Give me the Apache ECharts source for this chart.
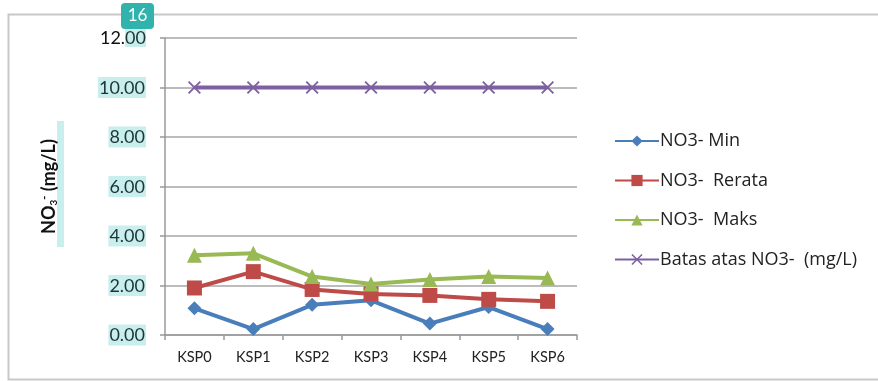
<!DOCTYPE html>
<html>
<head>
<meta charset="utf-8">
<script src="https://cdn.jsdelivr.net/npm/echarts@6/dist/echarts.min.js"></script>
<style>
  html, body { margin: 0; padding: 0; background: #fff; }
  #chart { width: 878px; height: 381px; }
</style>
</head>
<body>
<div id="chart"></div>
<script>
// Sampling stations
const stations = ['KSP0', 'KSP1', 'KSP2', 'KSP3', 'KSP4', 'KSP5', 'KSP6'];

// Nitrate concentrations (mg/L)
const no3Min    = [1.08, 0.24, 1.22, 1.40, 0.46, 1.13, 0.24];
const no3Rerata = [1.90, 2.56, 1.84, 1.66, 1.60, 1.44, 1.36];
const no3Maks   = [3.22, 3.30, 2.36, 2.06, 2.24, 2.36, 2.30];
const no3Batas  = [10, 10, 10, 10, 10, 10, 10];

const seriesNames = ['NO3- Min', 'NO3-  Rerata', 'NO3-  Maks', 'Batas atas NO3-  (mg/L)'];
const yTicks = [0, 2, 4, 6, 8, 10, 12];
const pageNumber = '16';

const FONT = 'Lato, "Open Sans", sans-serif';
const LEGEND_FONT = '"Open Sans", Lato, sans-serif';
const HL = '#c9eeee';

const crossPath = 'path://M0,1L1,0L5,4L9,0L10,1L6,5L10,9L9,10L5,6L1,10L0,9L4,5Z';

function lineSeries(name, data, color, symbol, size) {
  return {
    name: name,
    type: 'line',
    data: data,
    symbol: symbol,
    symbolSize: size,
    showAllSymbol: true,
    lineStyle: { color: color, width: 4 },
    itemStyle: { color: color },
    emphasis: { disabled: true },
    z: 3
  };
}

const chart = echarts.init(document.getElementById('chart'), null, { renderer: 'canvas' });

chart.setOption({
  animation: false,
  backgroundColor: '#fff',
  textStyle: { fontFamily: FONT },
  grid: { left: 165, top: 38, right: 301, bottom: 46, containLabel: false },
  legend: {
    orient: 'vertical',
    left: 609,
    top: 127,
    itemWidth: 44,
    itemHeight: 14,
    itemGap: 21.5,
    textStyle: { fontFamily: LEGEND_FONT, fontSize: 18, color: '#222', padding: [0, 0, 0, -4] },
    data: seriesNames
  },
  xAxis: {
    type: 'category',
    data: stations,
    boundaryGap: true,
    axisLine: { lineStyle: { color: '#999', width: 1.5 } },
    axisTick: { show: true, length: 5, lineStyle: { color: '#999', width: 1.5 } },
    axisLabel: { fontFamily: FONT, fontSize: 14.5, color: '#222', margin: 15 },
    splitLine: { show: false }
  },
  yAxis: {
    type: 'value',
    min: yTicks[0],
    max: yTicks[yTicks.length - 1],
    interval: 2,
    name: 'NO{sub|3}{sup|-} (mg/L)',
    nameLocation: 'middle',
    nameRotate: 90,
    nameGap: 106,
    nameTextStyle: {
      fontFamily: FONT, fontSize: 18, fontWeight: 'bold', color: '#111',
      rich: {
        sub: { fontSize: 10, fontWeight: 'bold', verticalAlign: 'bottom', padding: [7, 0, 0, 0] },
        sup: { fontSize: 11, fontWeight: 'bold', verticalAlign: 'top', padding: [0, 0, 9, 0] }
      }
    },
    axisLine: { show: true, lineStyle: { color: '#999', width: 1.5 } },
    axisTick: { show: true, length: 5, lineStyle: { color: '#999', width: 1.5 } },
    splitLine: { show: true, lineStyle: { color: '#a6a6a6', width: 1.5 } },
    axisLabel: {
      margin: 19,
      fontFamily: FONT,
      fontSize: 18,
      color: '#1e3535',
      formatter: function (v) {
        const s = v.toFixed(2);
        if (v === 12) return '{a|12.}{b|00}';
        return '{c|' + s + '}';
      },
      rich: {
        a: { fontFamily: FONT, fontSize: 18, color: '#111' },
        b: { fontFamily: FONT, fontSize: 18, color: '#1e3535', backgroundColor: HL },
        c: { fontFamily: FONT, fontSize: 18, color: '#1e3535', backgroundColor: HL, padding: [2, 1, 1, 1] }
      }
    }
  },
  graphic: [
    {
      type: 'rect', z: -1, silent: true,
      shape: { x: 8.5, y: 14.5, width: 900, height: 365 },
      style: { fill: 'none', stroke: '#c8c8c8', lineWidth: 2 }
    },
    {
      type: 'rect', z: -1, silent: true,
      shape: { x: 57, y: 121, width: 7, height: 126 },
      style: { fill: HL }
    },
    {
      type: 'group', left: 121, top: 3,
      children: [
        { type: 'rect', shape: { x: 0, y: 0, width: 33, height: 26, r: 4 }, style: { fill: '#2fb3ac' } },
        { type: 'text', x: 16.5, y: 13, style: { text: pageNumber, fill: '#fff', fontSize: 17, fontFamily: FONT, align: 'center', verticalAlign: 'middle' } }
      ]
    }
  ],
  series: [
    lineSeries(seriesNames[0], no3Min, '#4a7ebb', 'diamond', 14),
    lineSeries(seriesNames[1], no3Rerata, '#be4b48', 'rect', 15),
    lineSeries(seriesNames[2], no3Maks, '#98b954', 'triangle', 15),
    lineSeries(seriesNames[3], no3Batas, '#7d60a0', crossPath, 13)
  ]
});
</script>
</body>
</html>
